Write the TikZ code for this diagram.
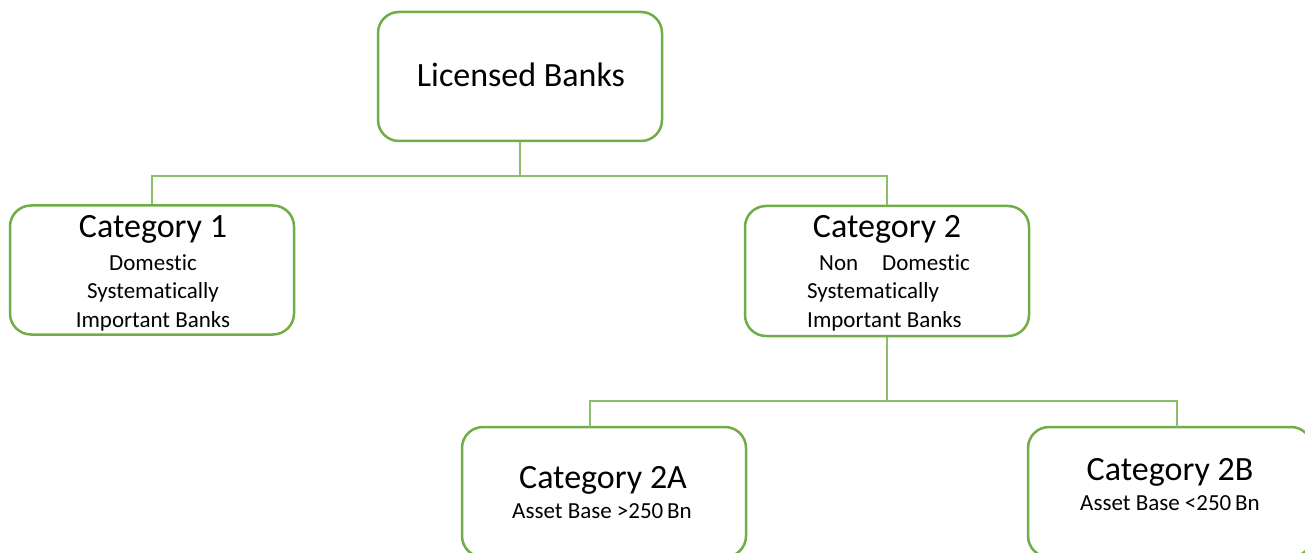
\documentclass[tikz,border=0pt]{standalone}
\usepackage{fontspec}
\setmainfont{Carlito}[Ligatures=NoCommon]
\definecolor{boxgreen}{HTML}{70AD47}
\definecolor{linegreen}{HTML}{8CBF6A}
\begin{document}
\begin{tikzpicture}[x=1pt,y=-1pt,
  box/.style={draw=boxgreen, line width=2.5pt, rounded corners=21pt, fill=white,
    minimum width=284pt, minimum height=129pt, inner sep=0pt},
  conn/.style={draw=linegreen, line width=1.5pt},
  big/.style={font=\fontsize{34}{40}\selectfont, inner sep=0pt, anchor=base},
  small/.style={font=\fontsize{23}{28}\selectfont, inner sep=0pt, anchor=base},
  smallw/.style={font=\fontsize{23}{28}\selectfont, inner sep=0pt, anchor=base west}]
\useasboundingbox (0,0) rectangle (1305,553);
\clip (0,0) rectangle (1305,553);
\fill[white] (0,0) rectangle (1305,553);

% boxes
\node[box] (lb)  at (520,76.5) {};
\node[box] (c1)  at (152,270) {};
\node[box, minimum height=130pt] (c2)  at (887,271) {};
\node[box, minimum height=130pt] (c2a) at (604,492) {};
\node[box, minimum height=130pt] (c2b) at (1170,492) {};

% connector junctions
\coordinate (j1) at (520,176);
\coordinate (j2) at (887,401);
\coordinate (atop) at (590,427);
\coordinate (btop) at (1177,427);

\draw[conn] (lb.south) -- (j1);
\draw[conn] (c1.north) |- (j1) -| (c2.north);
\draw[conn] (c2.south) -- (j2);
\draw[conn] (atop) |- (j2) -| (btop);

% texts
\node[big] (tlb) at (521,87) {Licensed Banks};

\node[big] (t1) at (153,238) {Category 1};
\node[small] (t1a) at (153,270) {Domestic};
\node[small] (t1b) at (153,298) {Systematically};
\node[small] (t1c) at (153,327) {Important Banks};

\node[big] (t2) at (887,238) {Category 2};
\node[smallw] (t2a) at (819,270) {Non};
\node[smallw] (t2d) at (882,270) {Domestic};
\node[smallw] (t2b) at (807,298) {Systematically};
\node[smallw] (t2c) at (807,327) {Important Banks};

\node[big] (t3) at (603,488) {Category 2A};
\node[small] (t3a) at (602,518) {Asset Base >250\,Bn};

\node[big] (t4) at (1170,480) {Category 2B};
\node[small] (t4a) at (1170,510) {Asset Base <250\,Bn};
\end{tikzpicture}
\end{document}
